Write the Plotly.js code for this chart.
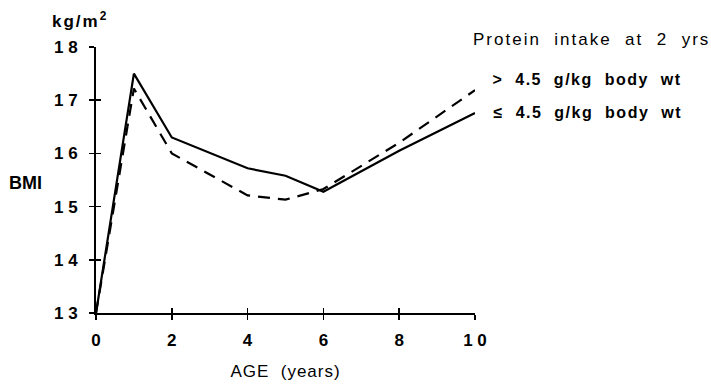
<!DOCTYPE html>
<html><head><meta charset="utf-8">
<script src="https://cdn.plot.ly/plotly-3.0.1.min.js"></script>
<style>html,body{margin:0;padding:0;background:#fff;}#chart{width:711px;height:384px;}</style>
</head><body><div id="chart"></div>
<script>
const ages = [0, 1, 2, 4, 5, 6, 8, 10];
const bmiLow = [13.0, 17.5, 16.3, 15.72, 15.58, 15.28, 16.05, 16.76];   // <= 4.5 g/kg (solid)
const bmiHigh = [13.0, 17.22, 16.0, 15.21, 15.13, 15.33, 16.2, 17.19]; // > 4.5 g/kg (dashed)
const xTicks = [0, 2, 4, 6, 8, 10];
const xTickText = ["<b>0</b>", "<b>2</b>", "<b>4</b>", "<b>6</b>", "<b>8</b>", "<b>1 0</b>"];
const yTicks = [13, 14, 15, 16, 17, 18];
const yTickText = ["<b>1 3</b>", "<b>1 4</b>", "<b>1 5</b>", "<b>1 6</b>", "<b>1 7</b>", "<b>1 8</b>"];
const legendTitle = "Protein&nbsp; intake&nbsp; at&nbsp; 2&nbsp; yrs";
const seriesNames = ["&gt;&nbsp; 4.5&nbsp; g/kg&nbsp; body&nbsp; wt", "≤&nbsp; 4.5&nbsp; g/kg&nbsp; body&nbsp; wt"];

const fam = "Liberation Sans, Arial, sans-serif";
const font = {family: fam, size: 16, color: "#000"};
const tickFont = {family: fam, size: 17, color: "#000"};
const traces = [
  {x: ages, y: bmiLow, mode: "lines", line: {color: "#000", width: 2.2, dash: "solid"}, name: seriesNames[1], showlegend: false},
  {x: ages, y: bmiHigh, mode: "lines", line: {color: "#000", width: 2.2, dash: "12px,8px"}, name: seriesNames[0], showlegend: false}
];
const axisCommon = {showgrid: false, zeroline: false, showline: true, linecolor: "#000", linewidth: 2, ticks: "outside", ticklen: 5, tickwidth: 1.5, tickcolor: "#000", tickfont: tickFont};
const layout = {
  width: 711, height: 384,
  margin: {l: 96, r: 236, t: 47, b: 71},
  paper_bgcolor: "#fff", plot_bgcolor: "#fff",
  font: font,
  xaxis: Object.assign({}, axisCommon, {range: [0, 10], tickvals: xTicks, ticktext: xTickText, ticklabelstandoff: 6,
    title: {text: "AGE&nbsp; (years)", font: {family: fam, size: 17, color: "#000"}, standoff: 16}}),
  yaxis: Object.assign({}, axisCommon, {range: [13, 18], tickvals: yTicks, ticktext: yTickText, ticklabelstandoff: 8}),
  xaxis2: {overlaying: "x", range: [0, 10], tickvals: xTicks, showticklabels: false, ticks: "inside", ticklen: 5, tickwidth: 1.5, tickcolor: "#000", showgrid: false, zeroline: false, showline: false},
  yaxis2: {overlaying: "y", range: [13, 18], tickvals: yTicks, showticklabels: false, ticks: "inside", ticklen: 5, tickwidth: 1.5, tickcolor: "#000", showgrid: false, zeroline: false, showline: false},
  annotations: [
    {xref: "paper", yref: "paper", x: -0.042, y: 1.10, xanchor: "center", yanchor: "middle", text: "<b>kg/m<sup>2</sup></b>", showarrow: false, font: {family: fam, size: 17, color: "#000"}},
    {xref: "paper", yref: "paper", x: -0.187, y: 0.489, xanchor: "center", yanchor: "middle", text: "<b>BMI</b>", showarrow: false, font: {family: fam, size: 18, color: "#000"}},
    {xref: "paper", yref: "paper", x: 1.307, y: 1.030, xanchor: "center", yanchor: "middle", text: legendTitle, showarrow: false, font: {family: fam, size: 17, color: "#000"}},
    {xref: "paper", yref: "paper", x: 1.298, y: 0.876, xanchor: "center", yanchor: "middle", text: "<b>" + seriesNames[0] + "</b>", showarrow: false, font: font},
    {xref: "paper", yref: "paper", x: 1.298, y: 0.752, xanchor: "center", yanchor: "middle", text: "<b>" + seriesNames[1] + "</b>", showarrow: false, font: font}
  ],
  showlegend: false
};
const spacing = ["2px", "0px", "2px", "1.5px", "1.5px"];
const dummy = {x: [0], y: [13], xaxis: "x2", yaxis: "y2", mode: "markers", marker: {opacity: 0}, hoverinfo: "skip", showlegend: false};
Plotly.newPlot("chart", traces.concat([dummy]), layout, {displayModeBar: false, staticPlot: true}).then(function (gd) {
  gd.querySelectorAll(".annotation-text").forEach(function (el, i) { el.style.letterSpacing = spacing[i] || "0px"; });
  gd.querySelectorAll(".xtitle").forEach(function (el) { el.style.letterSpacing = "1px"; });
});
</script></body></html>
